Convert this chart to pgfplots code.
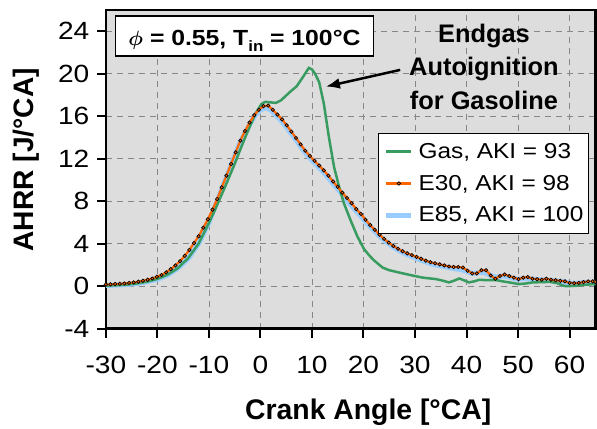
\documentclass[border=0pt]{standalone}
\usepackage{amsmath}
\usepackage{fontspec}
\setmainfont{Liberation Sans}
\newfontfamily\regfont{Liberation Sans}[FakeStretch=1.13]
\usepackage{pgfplots}
\pgfplotsset{compat=1.18}
\usetikzlibrary{arrows.meta}
\definecolor{bg}{RGB}{221,221,221}
\definecolor{gasgreen}{RGB}{56,155,96}
\definecolor{eorange}{RGB}{255,102,0}
\definecolor{eblue}{RGB}{153,204,255}
\definecolor{gridgray}{RGB}{135,135,135}
\begin{document}
\begin{tikzpicture}
\begin{axis}[
 scale only axis, width=490bp, height=319bp,
 xmin=-30, xmax=65, ymin=-4, ymax=26,
 xtick={-30,-20,...,60}, ytick={-4,0,...,24},
 axis background/.style={fill=bg},
 grid=major,
 major grid style={gridgray, line width=0.8bp, dash pattern=on 6bp off 5bp},
 axis line style={line width=2.5bp},
 tick align=outside, xtick pos=lower, ytick pos=left,
 major tick length=9bp,
 tick style={black, line width=2bp},
 /pgf/number format/assume math mode=true,
 tick label style={font=\regfont\fontsize{25}{25}\selectfont},
 xticklabel style={yshift=-14.7bp},
 yticklabel style={xshift=-4bp},
 xlabel={Crank Angle [°CA]}, ylabel={AHRR [J/°CA]},
 every axis x label/.style={at={(axis description cs:0.536,-0.285)}, anchor=base, font=\bfseries\fontsize{28.5}{30}\selectfont},
 every axis y label/.style={at={(axis description cs:-0.147,0.53)}, anchor=base, rotate=90, font=\bfseries\fontsize{28.3}{30}\selectfont},
 legend cell align=left,
 legend image code/.code={\draw[mark repeat=2,mark phase=2,#1] plot coordinates {(0bp,0bp) (12.5bp,0bp) (25bp,0bp)}; \path (29.7bp,0bp);},
 legend style={at={(rel axis cs:0.988,0.614)}, anchor=north east, draw=black, line width=1.2bp, fill=white,
   inner xsep=5.5bp, inner ysep=6.5bp, row sep=9bp,
   nodes={inner sep=0bp, text height=18bp, text depth=5bp},
   font=\regfont\fontsize{21.7}{26}\selectfont},
]
% E85 (drawn first, underneath)
\addplot[eblue, line width=5bp, forget plot] coordinates {
(-30,0.05) (-28,0.1) (-26,0.15) (-24,0.25) (-22,0.42) (-20,0.65) (-18,1.05) (-16,1.7) (-14,2.6) (-12,4.0) (-10,6.0) (-8,8.5) (-6,11.0) (-4,13.5) (-2,15.3) (-1,16.1) (0,16.6) (1,16.8) (2,16.6) (3,16.1) (4,15.6) (5,15.0) (6,14.35) (7,13.7) (8,13.0) (9,12.4) (10,11.85) (11,11.35) (12,10.85) (13,10.3) (14,9.7) (15,9.15) (16,8.55) (17,7.95) (18,7.4) (19,6.85) (20,6.3) (21,5.75) (22,5.25) (23,4.75) (24,4.35) (25,3.95) (26,3.62) (27,3.32) (28,3.07) (29,2.87) (30,2.67) (31,2.47) (32,2.3) (33,2.12) (34,2.0) (35,1.9) (36,1.8) (37,1.7) (38,1.62) (39,1.55) (40,1.4) (41,1.2) (42,1.25) (43,1.3) (44,1.2) (45,0.9) (46,0.85) (47,0.95) (48,0.9) (49,0.75) (50,0.65) (51,0.7) (52,0.7) (53,0.65) (54,0.6) (55,0.6) (56,0.55) (57,0.5) (58,0.45) (59,0.4) (60,0.3) (61,0.25) (62,0.3) (63,0.35) (64,0.35) (65,0.35)
};
% Gas
\addplot[gasgreen, line width=2.5bp] coordinates {
(-30,0.05) (-28,0.08) (-26,0.14) (-24,0.25) (-22,0.42) (-20,0.68) (-18,1.08) (-16,1.7) (-14,2.65) (-12,4.0) (-10,5.95) (-9,7.0) (-8,8.1) (-7,9.2) (-6,10.35) (-5,11.5) (-4,12.75) (-3,13.95) (-2,15.1) (-1,16.2) (0,17.0) (0.5,17.25) (1,17.35) (2,17.3) (3,17.25) (4,17.5) (5,17.95) (6,18.4) (7,18.8) (8,19.5) (8.8,20.1) (9.4,20.55) (10,20.4) (10.6,20.0) (11.4,19.2) (12.3,17.2) (13.3,14.0) (14.3,11.2) (15.3,9.3) (16.2,7.8) (17.5,6.2) (18.8,4.7) (20.1,3.5) (21.1,2.9) (22.1,2.4) (23.7,1.75) (25,1.5) (27.2,1.25) (29.8,0.97) (31.5,0.8) (34.1,0.66) (35.5,0.5) (36.6,0.35) (37.5,0.5) (38.6,0.72) (39.5,0.55) (40.5,0.35) (41.5,0.45) (42.5,0.6) (43.5,0.57) (45.7,0.57) (47,0.45) (48.3,0.35) (50.2,0.19) (51.5,0.25) (52.8,0.35) (56.1,0.4) (57.5,0.3) (58.7,0.05) (59.3,0.0) (61,0.02) (62.5,0.1) (64.8,0.2) (65,0.2)
};
\addlegendentry{Gas, AKI = 93}
% E30
\addplot[eorange, line width=2.2bp, mark=*, mark size=1.7bp, mark options={draw=black, fill=eorange, line width=0.7bp}] coordinates {
(-30,0.15) (-29.1,0.17) (-28.2,0.2) (-27.3,0.22) (-26.4,0.25) (-25.5,0.3) (-24.6,0.35) (-23.7,0.42) (-22.8,0.5) (-21.9,0.6) (-21,0.72) (-20.1,0.88) (-19.2,1.05) (-18.3,1.3) (-17.4,1.6) (-16.5,1.95) (-15.6,2.35) (-14.7,2.85) (-13.8,3.4) (-12.9,4.05) (-12,4.7) (-11.1,5.5) (-10.2,6.3) (-9.3,7.2) (-8.4,8.2) (-7.5,9.3) (-6.6,10.4) (-5.7,11.5) (-4.8,12.6) (-3.9,13.7) (-3,14.6) (-2.1,15.4) (-1.2,16.1) (-0.3,16.6) (0.6,16.95) (1.5,17.0) (2.4,16.6) (3.3,16.15) (4.2,15.7) (5.1,15.15) (6,14.55) (6.9,13.95) (7.8,13.35) (8.7,12.75) (9.6,12.25) (10.5,11.8) (11.4,11.35) (12.3,10.9) (13.2,10.4) (14.1,9.85) (15,9.35) (15.9,8.8) (16.8,8.3) (17.7,7.8) (18.6,7.25) (19.5,6.8) (20.4,6.25) (21.3,5.75) (22.2,5.3) (23.1,4.85) (24,4.45) (24.9,4.1) (25.8,3.78) (26.7,3.52) (27.6,3.28) (28.5,3.08) (29.4,2.92) (30.3,2.75) (31.2,2.58) (32.1,2.4) (33,2.25) (33.9,2.15) (34.8,2.05) (35.7,1.95) (36.6,1.85) (37.5,1.8) (38.4,1.8) (39.3,1.75) (40.2,1.45) (41.1,1.2) (42,1.2) (42.9,1.5) (43.8,1.5) (44.7,1.0) (45.6,0.7) (46.5,0.95) (47.4,1.1) (48.3,0.95) (49.2,0.8) (50.1,0.65) (51,0.8) (51.9,0.85) (52.8,0.7) (53.7,0.65) (54.6,0.6) (55.5,0.7) (56.4,0.6) (57.3,0.55) (58.2,0.5) (59.1,0.45) (60,0.3) (60.9,0.28) (61.8,0.3) (62.7,0.38) (63.6,0.45) (64.5,0.45) (65,0.4)
};
\addlegendentry{E30, AKI = 98}
\addlegendimage{eblue, line width=5bp}
\addlegendentry{E85, AKI = 100}
% annotations
\node[draw=black, line width=1.5bp, fill=white, anchor=north west, minimum width=258bp,
  text height=22bp, text depth=2bp, inner ysep=8bp, inner xsep=0bp,
  font=\regfont\bfseries\fontsize{22}{22}\selectfont]
  at (rel axis cs:0.0184,0.984) {$\boldsymbol{\phi}$ = 0.55, T\raisebox{-0.28em}{\fontsize{15}{15}\selectfont in} = 100°C};
\node[anchor=base, font=\bfseries\fontsize{25.5}{25.5}\selectfont] at (axis cs:43.38,22.93) {Endgas};
\node[anchor=base, font=\bfseries\fontsize{25.5}{25.5}\selectfont] at (axis cs:43.38,19.79) {Autoignition};
\node[anchor=base, font=\bfseries\fontsize{25.5}{25.5}\selectfont] at (axis cs:43.38,16.66) {for Gasoline};
\draw[-{Latex[length=14bp,width=11bp]}, line width=2.5bp] (axis cs:27.13,20.36) -- (axis cs:12.71,18.79);
\end{axis}
\path ([shift={(-106bp,-96bp)}]current axis.south west) rectangle ([shift={(1bp,10bp)}]current axis.north east);
\end{tikzpicture}
\end{document}
